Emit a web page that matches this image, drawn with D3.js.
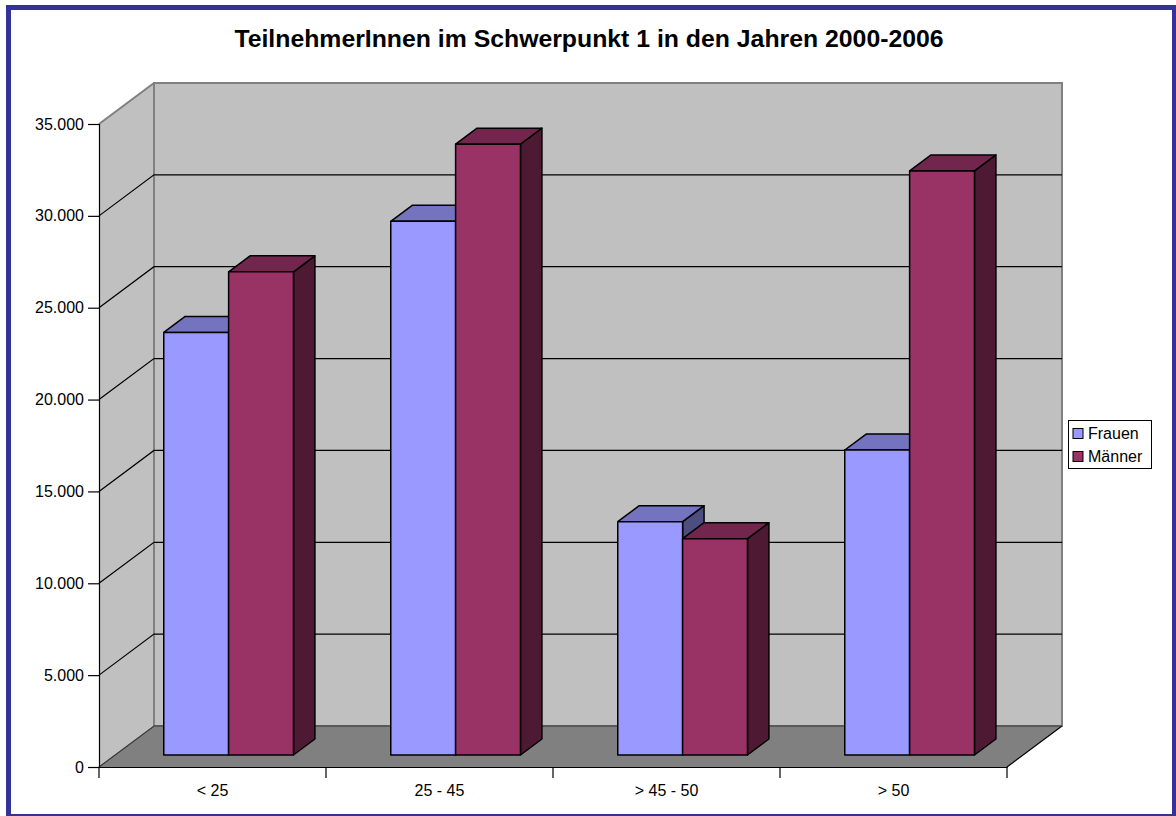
<!DOCTYPE html>
<html>
<head>
<meta charset="utf-8">
<script src="https://cdn.jsdelivr.net/npm/d3@7"></script>
<style>
  html, body { margin: 0; padding: 0; background: #fff; }
  svg { display: block; }
  text { font-family: "Liberation Sans", Arial, sans-serif; }
</style>
</head>
<body>
<svg id="chart" width="1176" height="816"></svg>
<script>
// ---- data ----
const title = "TeilnehmerInnen im Schwerpunkt 1 in den Jahren 2000-2006";
const categories = ["< 25", "25 - 45", "> 45 - 50", "> 50"];
const seriesNames = ["Frauen", "Männer"];
const frauen = [23000, 29050, 12700, 16600];
const maenner = [26300, 33250, 11775, 31790];
const yTicks = [0, 5000, 10000, 15000, 20000, 25000, 30000, 35000];

// ---- styles ----
const colors = {
  Frauen: { front: "#9999ff", top: "#7373bf", side: "#4d4d80" },
  "Männer": { front: "#993366", top: "#73264d", side: "#4d1933" }
};

const svg = d3.select("#chart");

// outer border
svg.append("rect").attr("x", 8.5).attr("y", 7.5).attr("width", 1166).attr("height", 809)
  .attr("fill", "#fff").attr("stroke", "#333399").attr("stroke-width", 5);

// title
svg.append("text").attr("x", 589).attr("y", 47).attr("text-anchor", "middle")
  .attr("font-weight", "bold").attr("font-size", "24.8px").attr("fill", "#000").text(title);

// scales
const xLeft = 99, xRight = 1007;
const y = d3.scaleLinear().domain([0, 35000]).range([767, 124]);
const xBand = d3.scaleBand().domain(categories).range([xLeft, xRight]).paddingInner(0).paddingOuter(0);
const inner = d3.scaleBand().domain(seriesNames).range([0, xBand.bandwidth()]).paddingInner(0).paddingOuter(0.75);

// 3D depth projection
const DX = 55, DY = -41;
const z0 = 0.293, z1 = 0.683;
const proj = (x, v, z) => [x + DX * z, y(v) + DY * z];
const pts = arr => arr.map(p => p.join(",")).join(" ");

const yMax = 35000;

// back wall
const bwTL = proj(xLeft, yMax, 1), bwBR = proj(xRight, 0, 1);
svg.append("rect").attr("x", bwTL[0]).attr("y", bwTL[1])
  .attr("width", bwBR[0] - bwTL[0]).attr("height", bwBR[1] - bwTL[1])
  .attr("fill", "#c0c0c0").attr("stroke", "#808080").attr("stroke-width", 2);

// left wall
svg.append("polygon")
  .attr("points", pts([proj(xLeft, yMax, 0), proj(xLeft, yMax, 1), proj(xLeft, 0, 1), proj(xLeft, 0, 0)]))
  .attr("fill", "#c0c0c0").attr("stroke", "none");
svg.append("line")
  .attr("x1", proj(xLeft, yMax, 0)[0]).attr("y1", proj(xLeft, yMax, 0)[1])
  .attr("x2", proj(xLeft, yMax, 1)[0]).attr("y2", proj(xLeft, yMax, 1)[1])
  .attr("stroke", "#808080").attr("stroke-width", 2);
svg.append("line")
  .attr("x1", proj(xLeft, yMax, 1)[0]).attr("y1", proj(xLeft, yMax, 1)[1])
  .attr("x2", proj(xLeft, 0, 1)[0]).attr("y2", proj(xLeft, 0, 1)[1])
  .attr("stroke", "#808080").attr("stroke-width", 2);

// floor
svg.append("polygon")
  .attr("points", pts([proj(xLeft, 0, 0), proj(xRight, 0, 0), proj(xRight, 0, 1), proj(xLeft, 0, 1)]))
  .attr("fill", "#808080").attr("stroke", "none");
svg.append("line")
  .attr("x1", proj(xRight, 0, 0)[0]).attr("y1", proj(xRight, 0, 0)[1])
  .attr("x2", proj(xRight, 0, 1)[0]).attr("y2", proj(xRight, 0, 1)[1])
  .attr("stroke", "#000").attr("stroke-width", 1.2);

// gridlines
const grid = svg.append("g");
yTicks.filter(t => t < yMax).forEach(t => {
  const a = proj(xLeft, t, 0), b = proj(xLeft, t, 1), c = proj(xRight, t, 1);
  grid.append("polyline").attr("points", pts([a, b, c]))
    .attr("fill", "none").attr("stroke", t === 0 ? "#333" : "#000").attr("stroke-width", 1.2);
});

// bars
const bars = svg.append("g");
const seriesData = { Frauen: frauen, "Männer": maenner };
categories.forEach((cat, i) => {
  seriesNames.forEach(s => {
    const v = seriesData[s][i];
    const a = xBand(cat) + inner(s), b = a + inner.bandwidth();
    const c = colors[s];
    const g = bars.append("g").attr("stroke", "#000").attr("stroke-width", 1.5).attr("stroke-linejoin", "round");
    g.append("polygon").attr("points", pts([proj(b, 0, z0), proj(b, v, z0), proj(b, v, z1), proj(b, 0, z1)]))
      .attr("fill", c.side);
    g.append("polygon").attr("points", pts([proj(a, v, z0), proj(b, v, z0), proj(b, v, z1), proj(a, v, z1)]))
      .attr("fill", c.top);
    g.append("polygon").attr("points", pts([proj(a, 0, z0), proj(b, 0, z0), proj(b, v, z0), proj(a, v, z0)]))
      .attr("fill", c.front);
  });
});

// y axis
const fmt = d3.formatLocale({ decimal: ",", thousands: ".", grouping: [3], currency: ["", ""] }).format(",d");
const yAxis = svg.append("g").attr("transform", `translate(${xLeft},0)`)
  .call(d3.axisLeft(y).tickValues(yTicks).tickSize(11).tickPadding(4).tickFormat(fmt));
yAxis.select(".domain").attr("stroke", "#000").attr("stroke-width", 1.2);
yAxis.selectAll(".tick line").attr("stroke", "#000").attr("stroke-width", 1.2);
yAxis.selectAll("text").attr("font-size", "16px").attr("font-family", "'Liberation Sans', Arial, sans-serif").attr("fill", "#000");

// x axis (labels at category centres)
const xAxis = svg.append("g").attr("transform", `translate(0,${y(0)})`)
  .call(d3.axisBottom(xBand).tickSize(0).tickPadding(18));
xAxis.select(".domain").attr("stroke", "#000").attr("stroke-width", 1.2);
xAxis.selectAll("text").attr("font-size", "16px").attr("font-family", "'Liberation Sans', Arial, sans-serif").attr("fill", "#000");
// category boundary ticks
const bounds = categories.map(c => xBand(c)).concat([xRight]);
xAxis.selectAll(".bound").data(bounds).enter().append("line").attr("class", "bound")
  .attr("x1", d => d).attr("x2", d => d).attr("y1", 0).attr("y2", 11)
  .attr("stroke", "#000").attr("stroke-width", 1.2);

// legend
const lg = svg.append("g").attr("transform", "translate(1068,420)");
lg.append("rect").attr("x", 0.5).attr("y", 0.5).attr("width", 83).attr("height", 48)
  .attr("fill", "#fff").attr("stroke", "#000").attr("stroke-width", 1);
seriesNames.forEach((s, i) => {
  lg.append("rect").attr("x", 5).attr("y", 8.5 + i * 23).attr("width", 10).attr("height", 10)
    .attr("fill", colors[s].front).attr("stroke", "#000").attr("stroke-width", 1);
  lg.append("text").attr("x", 20).attr("y", 19 + i * 23).attr("font-size", "16px").attr("fill", "#000").text(s);
});
</script>
</body>
</html>
